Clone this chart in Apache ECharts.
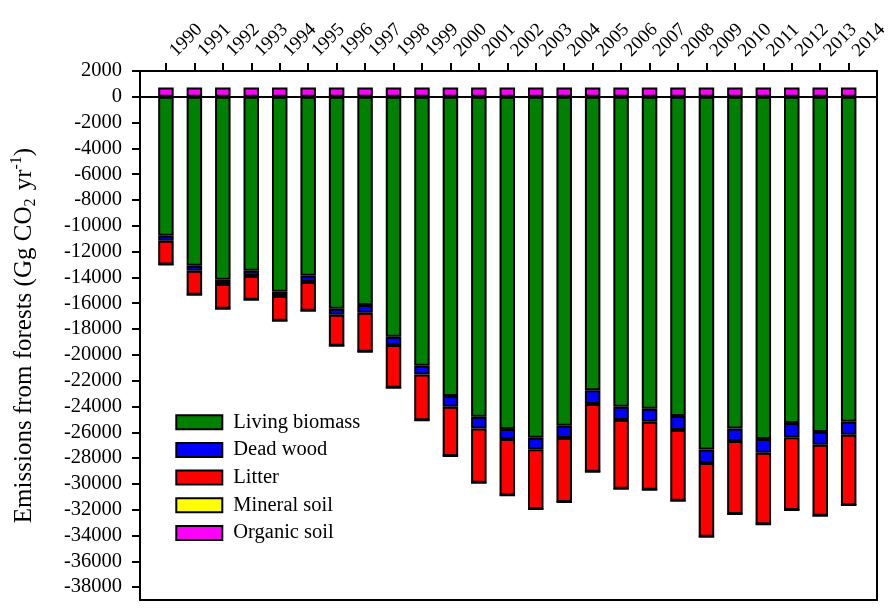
<!DOCTYPE html>
<html>
<head>
<meta charset="utf-8">
<script src="https://cdn.jsdelivr.net/npm/echarts@6/dist/echarts.min.js"></script>
<style>html,body{margin:0;padding:0;background:#fff;}#c{width:891px;height:615px;}</style>
</head>
<body>
<div id="c"></div>
<script>
var years = ['1990','1991','1992','1993','1994','1995','1996','1997','1998','1999','2000','2001','2002','2003','2004','2005','2006','2007','2008','2009','2010','2011','2012','2013','2014'];
var livingBiomass = [-10770,-13090,-14180,-13480,-15110,-13870,-16430,-16140,-18600,-20850,-23190,-24800,-25750,-26430,-25500,-22750,-24020,-24180,-24740,-27330,-25700,-26530,-25290,-25980,-25190];
var deadWood = [-390,-390,-330,-410,-330,-490,-460,-600,-640,-670,-830,-900,-780,-880,-950,-1060,-1030,-1010,-1090,-1060,-980,-1060,-1090,-990,-1010];
var litter = [-1830,-1860,-1910,-1840,-1920,-2220,-2400,-3020,-3310,-3540,-3820,-4220,-4360,-4630,-4960,-5250,-5330,-5270,-5480,-5710,-5660,-5530,-5640,-5500,-5430];
var mineralSoil = [0,0,0,0,0,0,0,0,0,0,0,0,0,0,0,0,0,0,0,0,0,0,0,0,0];
var organicSoil = [720,720,720,720,720,720,720,720,720,720,720,720,720,720,720,720,720,720,720,720,720,720,720,720,720];
var yTicks = [2000,0,-2000,-4000,-6000,-8000,-10000,-12000,-14000,-16000,-18000,-20000,-22000,-24000,-26000,-28000,-30000,-32000,-34000,-36000,-38000];
var yMin = -39000, yMax = 2000;

var FONT = 'Liberation Serif';
var chart = echarts.init(document.getElementById('c'), null, {renderer:'canvas'});

function barSeries(name, data, color) {
  return {
    name: name, type: 'bar', stack: 'total', data: data,
    xAxisIndex: 2, yAxisIndex: 2, barWidth: 15.5,
    itemStyle: {color: color, borderColor: '#000', borderWidth: 2},
    emphasis: {disabled: true}, animation: false
  };
}

var option = {
  animation: false,
  backgroundColor: '#fff',
  textStyle: {fontFamily: FONT},
  grid: [
    {left: 140, right: 14, top: 71, bottom: 15, containLabel: false},
    {left: 151.7, right: 23, top: 71, bottom: 15, containLabel: false}
  ],
  legend: {
    orient: 'vertical', left: 175.3, top: 411.7, padding: 0,
    itemWidth: 46, itemHeight: 14, itemGap: 6.7, icon: 'rect',
    textStyle: {fontFamily: FONT, fontSize: 20.5, color: '#000', lineHeight: 20, padding: [0,0,0,6]},
    data: ['Living biomass','Dead wood','Litter','Mineral soil','Organic soil'],
    selectedMode: false
  },
  xAxis: [
    {gridIndex: 0, type: 'value', min: 0, max: 1, position: 'bottom',
     axisLine: {show: true, onZero: false, lineStyle: {color: '#000', width: 2}},
     axisTick: {show: false}, axisLabel: {show: false}, splitLine: {show: false}},
    {gridIndex: 0, type: 'value', min: 0, max: 1, position: 'top',
     axisLine: {show: true, onZero: false, lineStyle: {color: '#000', width: 2}},
     axisTick: {show: false}, axisLabel: {show: false}, splitLine: {show: false}},
    {gridIndex: 1, type: 'category', data: years, position: 'top', boundaryGap: true,
     axisLine: {show: false, onZero: false},
     axisTick: {show: true, alignWithLabel: true, length: 8, inside: false, lineStyle: {color: '#000', width: 2}},
     axisLabel: {rotate: -45, margin: 24, verticalAlign: 'top', fontFamily: FONT, fontSize: 19, color: '#000', interval: 0},
     splitLine: {show: false}}
  ],
  yAxis: [
    {gridIndex: 0, type: 'value', min: yMin, max: yMax, position: 'left',
     axisLine: {show: true, onZero: false, lineStyle: {color: '#000', width: 2}},
     axisTick: {show: true, length: 8, customValues: yTicks, lineStyle: {color: '#000', width: 2}},
     axisLabel: {show: true, customValues: yTicks, margin: 18, fontFamily: FONT, fontSize: 20.5, color: '#000',
       formatter: function (v) { return String(v); }},
     splitLine: {show: false},
     name: '{a|Emissions from forests (Gg CO}{b|2}{a| yr}{c|-1}{a|)}',
     nameLocation: 'middle', nameRotate: 90, nameGap: 101,
     nameTextStyle: {
       fontFamily: FONT, fontSize: 25, color: '#000',
       rich: {
         a: {fontFamily: FONT, fontSize: 25, color: '#000', lineHeight: 30},
         b: {fontFamily: FONT, fontSize: 16, color: '#000', verticalAlign: 'bottom', lineHeight: 30, padding: [0,2,0,0]},
         c: {fontFamily: FONT, fontSize: 16, color: '#000', verticalAlign: 'top', lineHeight: 30}
       }
     }},
    {gridIndex: 0, type: 'value', min: yMin, max: yMax, position: 'right',
     axisLine: {show: true, onZero: false, lineStyle: {color: '#000', width: 2}},
     axisTick: {show: false}, axisLabel: {show: false}, splitLine: {show: false}},
    {gridIndex: 1, type: 'value', min: yMin, max: yMax, show: false,
     splitLine: {show: false}}
  ],
  series: [
    barSeries('Living biomass', livingBiomass, '#008000'),
    barSeries('Dead wood', deadWood, '#0000ff'),
    barSeries('Litter', litter, '#ff0000'),
    barSeries('Mineral soil', mineralSoil, '#ffff00'),
    barSeries('Organic soil', organicSoil, '#ff00ff'),
    {
      name: 'zero', type: 'line', xAxisIndex: 0, yAxisIndex: 0, data: [],
      silent: true, z: 10,
      markLine: {silent: true, symbol: 'none', label: {show: false},
        lineStyle: {color: '#000', width: 2, type: 'solid'},
        data: [{yAxis: 0}], animation: false}
    }
  ]
};
chart.setOption(option);
</script>
</body>
</html>
